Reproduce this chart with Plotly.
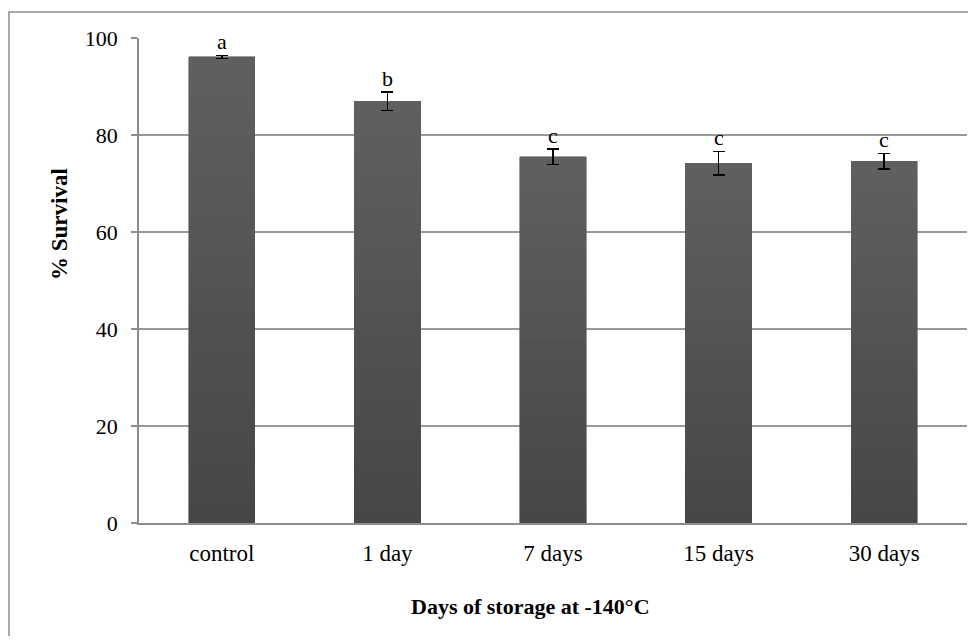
import plotly.graph_objects as go

categories = ["control", "1 day", "7 days", "15 days", "30 days"]
survival = [96.1, 87.0, 75.5, 74.2, 74.6]
errors = [0.3, 1.9, 1.6, 2.4, 1.6]
letters = ["a", "b", "c", "c", "c"]

FONT = "Liberation Serif, Times New Roman, serif"

# page has an 8px body margin; plot area in page coords: x 139..967, y 38..523
PX0, PX1, PY0, PY1 = 139, 967, 38, 523
W, H = 960, 628
OFF = 8
PW, PH = PX1 - PX0, PY1 - PY0

# vertical gradient per bar (dark bottom -> lighter top), built by stacking slices
N_SLICES = 24
C_BOTTOM, C_TOP = 0x46, 0x60

fig = go.Figure()
for i in range(N_SLICES):
    t = (i + 0.5) / N_SLICES
    g = round(C_BOTTOM + (C_TOP - C_BOTTOM) * t)
    col = f"rgb({g},{g},{g})"
    last = i == N_SLICES - 1
    fig.add_trace(go.Bar(
        x=categories, y=[v / N_SLICES for v in survival],
        width=0.4,
        marker=dict(color=col, line=dict(width=0.6, color=col)),
        error_y=dict(type="data", array=errors, visible=True,
                     color="black", thickness=1.5, width=6) if last else None,
        showlegend=False, hoverinfo="skip",
    ))

for c, v, e, l in zip(categories, survival, errors, letters):
    fig.add_annotation(x=c, y=v + e, text=l, showarrow=False,
                       yanchor="bottom", yshift=-1,
                       font=dict(family=FONT, size=22, color="black"))

# axis titles
fig.add_annotation(xref="paper", yref="paper", x=(530 - PX0) / PW, y=(PY1 - 606) / PH,
                   text="<b>Days of storage at -140°C</b>", showarrow=False,
                   xanchor="center", yanchor="middle",
                   font=dict(family=FONT, size=22, color="black"))
fig.add_annotation(xref="paper", yref="paper", x=(60 - PX0) / PW, y=(PY1 - 224) / PH,
                   text="<b>% Survival</b>", showarrow=False, textangle=-90,
                   xanchor="center", yanchor="middle",
                   font=dict(family=FONT, size=23, color="black"))

fig.add_shape(type="rect", xref="paper", yref="paper",
              x0=(9 - PX0) / PW, x1=1.05, y0=-0.4, y1=(PY1 - 12) / PH,
              line=dict(color="#8c8c8c", width=1.5), layer="below")

fig.update_layout(
    width=W, height=H,
    margin=dict(l=PX0 - OFF, r=W - (PX1 - OFF), t=PY0 - OFF, b=H - (PY1 - OFF),
                autoexpand=False),
    paper_bgcolor="white", plot_bgcolor="white",
    font=dict(family=FONT, size=16, color="black"),
    barmode="stack",
    bargap=0.6,
    xaxis=dict(
        automargin=False,
        showline=True, linecolor="#8c8c8c", linewidth=1.5,
        ticks="", showgrid=False,
        tickfont=dict(family=FONT, size=23),
        ticklabelstandoff=9,
    ),
    yaxis=dict(
        automargin=False,
        range=[0, 100], dtick=20,
        showline=True, linecolor="#8c8c8c", linewidth=1.5,
        ticks="outside", ticklen=6, tickcolor="#8c8c8c", tickwidth=1.5,
        showgrid=True, gridcolor="#999999", gridwidth=1.5,
        zeroline=False,
        tickfont=dict(family=FONT, size=22),
        ticklabelstandoff=9,
    ),
)

fig.write_html("out.html")
